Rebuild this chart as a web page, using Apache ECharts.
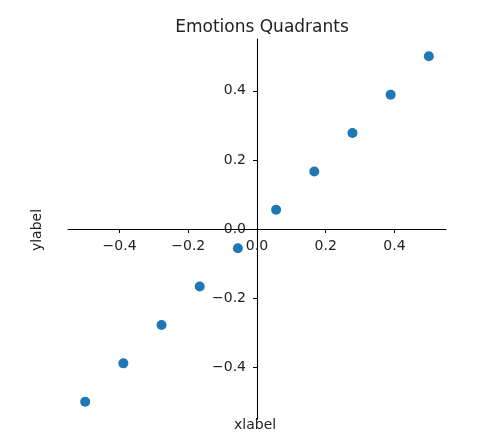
<!DOCTYPE html>
<html>
<head>
<meta charset="utf-8">
<script src="https://cdn.jsdelivr.net/npm/echarts@6/dist/echarts.min.js"></script>
<style>
  html, body { margin: 0; padding: 0; background: #fff; }
  #chart { width: 490px; height: 448px; }
</style>
</head>
<body>
<div id="chart"></div>
<script>
// scatter values (x, y)
const xValues = [-0.5, -0.3889, -0.2778, -0.1667, -0.0556, 0.0556, 0.1667, 0.2778, 0.3889, 0.5];
const yValues = [-0.5, -0.3889, -0.2778, -0.1667, -0.0556, 0.0556, 0.1667, 0.2778, 0.3889, 0.5];
const tickValues = [-0.4, -0.2, 0, 0.2, 0.4];

const points = xValues.map((x, i) => [x, yValues[i]]);
const fmt = (v) => v.toFixed(1).replace('-', '\u2212');
const font = 'DejaVu Sans';

let chart = echarts.init(document.getElementById('chart'));

// grid is square-ish around zero; axes are shifted to the middle with offset
let axisCommon = {
  type: 'value',
  min: -0.55,
  max: 0.55,
  splitLine: { show: false },
  axisLine: { onZero: false, lineStyle: { color: '#000', width: 1.1 } },
  axisTick: { show: true, length: 4, customValues: tickValues, lineStyle: { color: '#000', width: 1 } },
};

let option = {
  animation: false,
  title: {
    text: 'Emotions Quadrants',
    left: 257,
    textAlign: 'center',
    top: 14,
    textStyle: { fontFamily: font, fontSize: 17, fontWeight: 'normal', color: '#222' },
  },
  grid: { left: 68, top: 39, width: 378, height: 380 },
  xAxis: Object.assign({}, axisCommon, {
    offset: -190,
    axisLabel: {
      customValues: tickValues,
      formatter: fmt,
      margin: 10,
      fontFamily: font,
      fontSize: 14,
      color: '#222',
    },
  }),
  yAxis: Object.assign({}, axisCommon, {
    offset: -189,
    axisLabel: {
      customValues: tickValues,
      formatter: fmt,
      margin: 11,
      fontFamily: font,
      fontSize: 14,
      color: '#222',
    },
  }),
  graphic: [
    {
      type: 'text',
      left: 257 - 23,
      top: 418,
      style: { text: 'xlabel', fontFamily: font, fontSize: 14, fill: '#222' },
    },
    {
      type: 'text',
      x: 44,
      y: 230,
      rotation: Math.PI / 2,
      style: { text: 'ylabel', fontFamily: font, fontSize: 14, fill: '#222', align: 'center', verticalAlign: 'bottom' },
    },
  ],
  series: [
    {
      type: 'scatter',
      data: points,
      symbolSize: 10,
      itemStyle: { color: '#1f77b4', opacity: 1 },
    },
  ],
};

chart.setOption(option);
</script>
</body>
</html>
